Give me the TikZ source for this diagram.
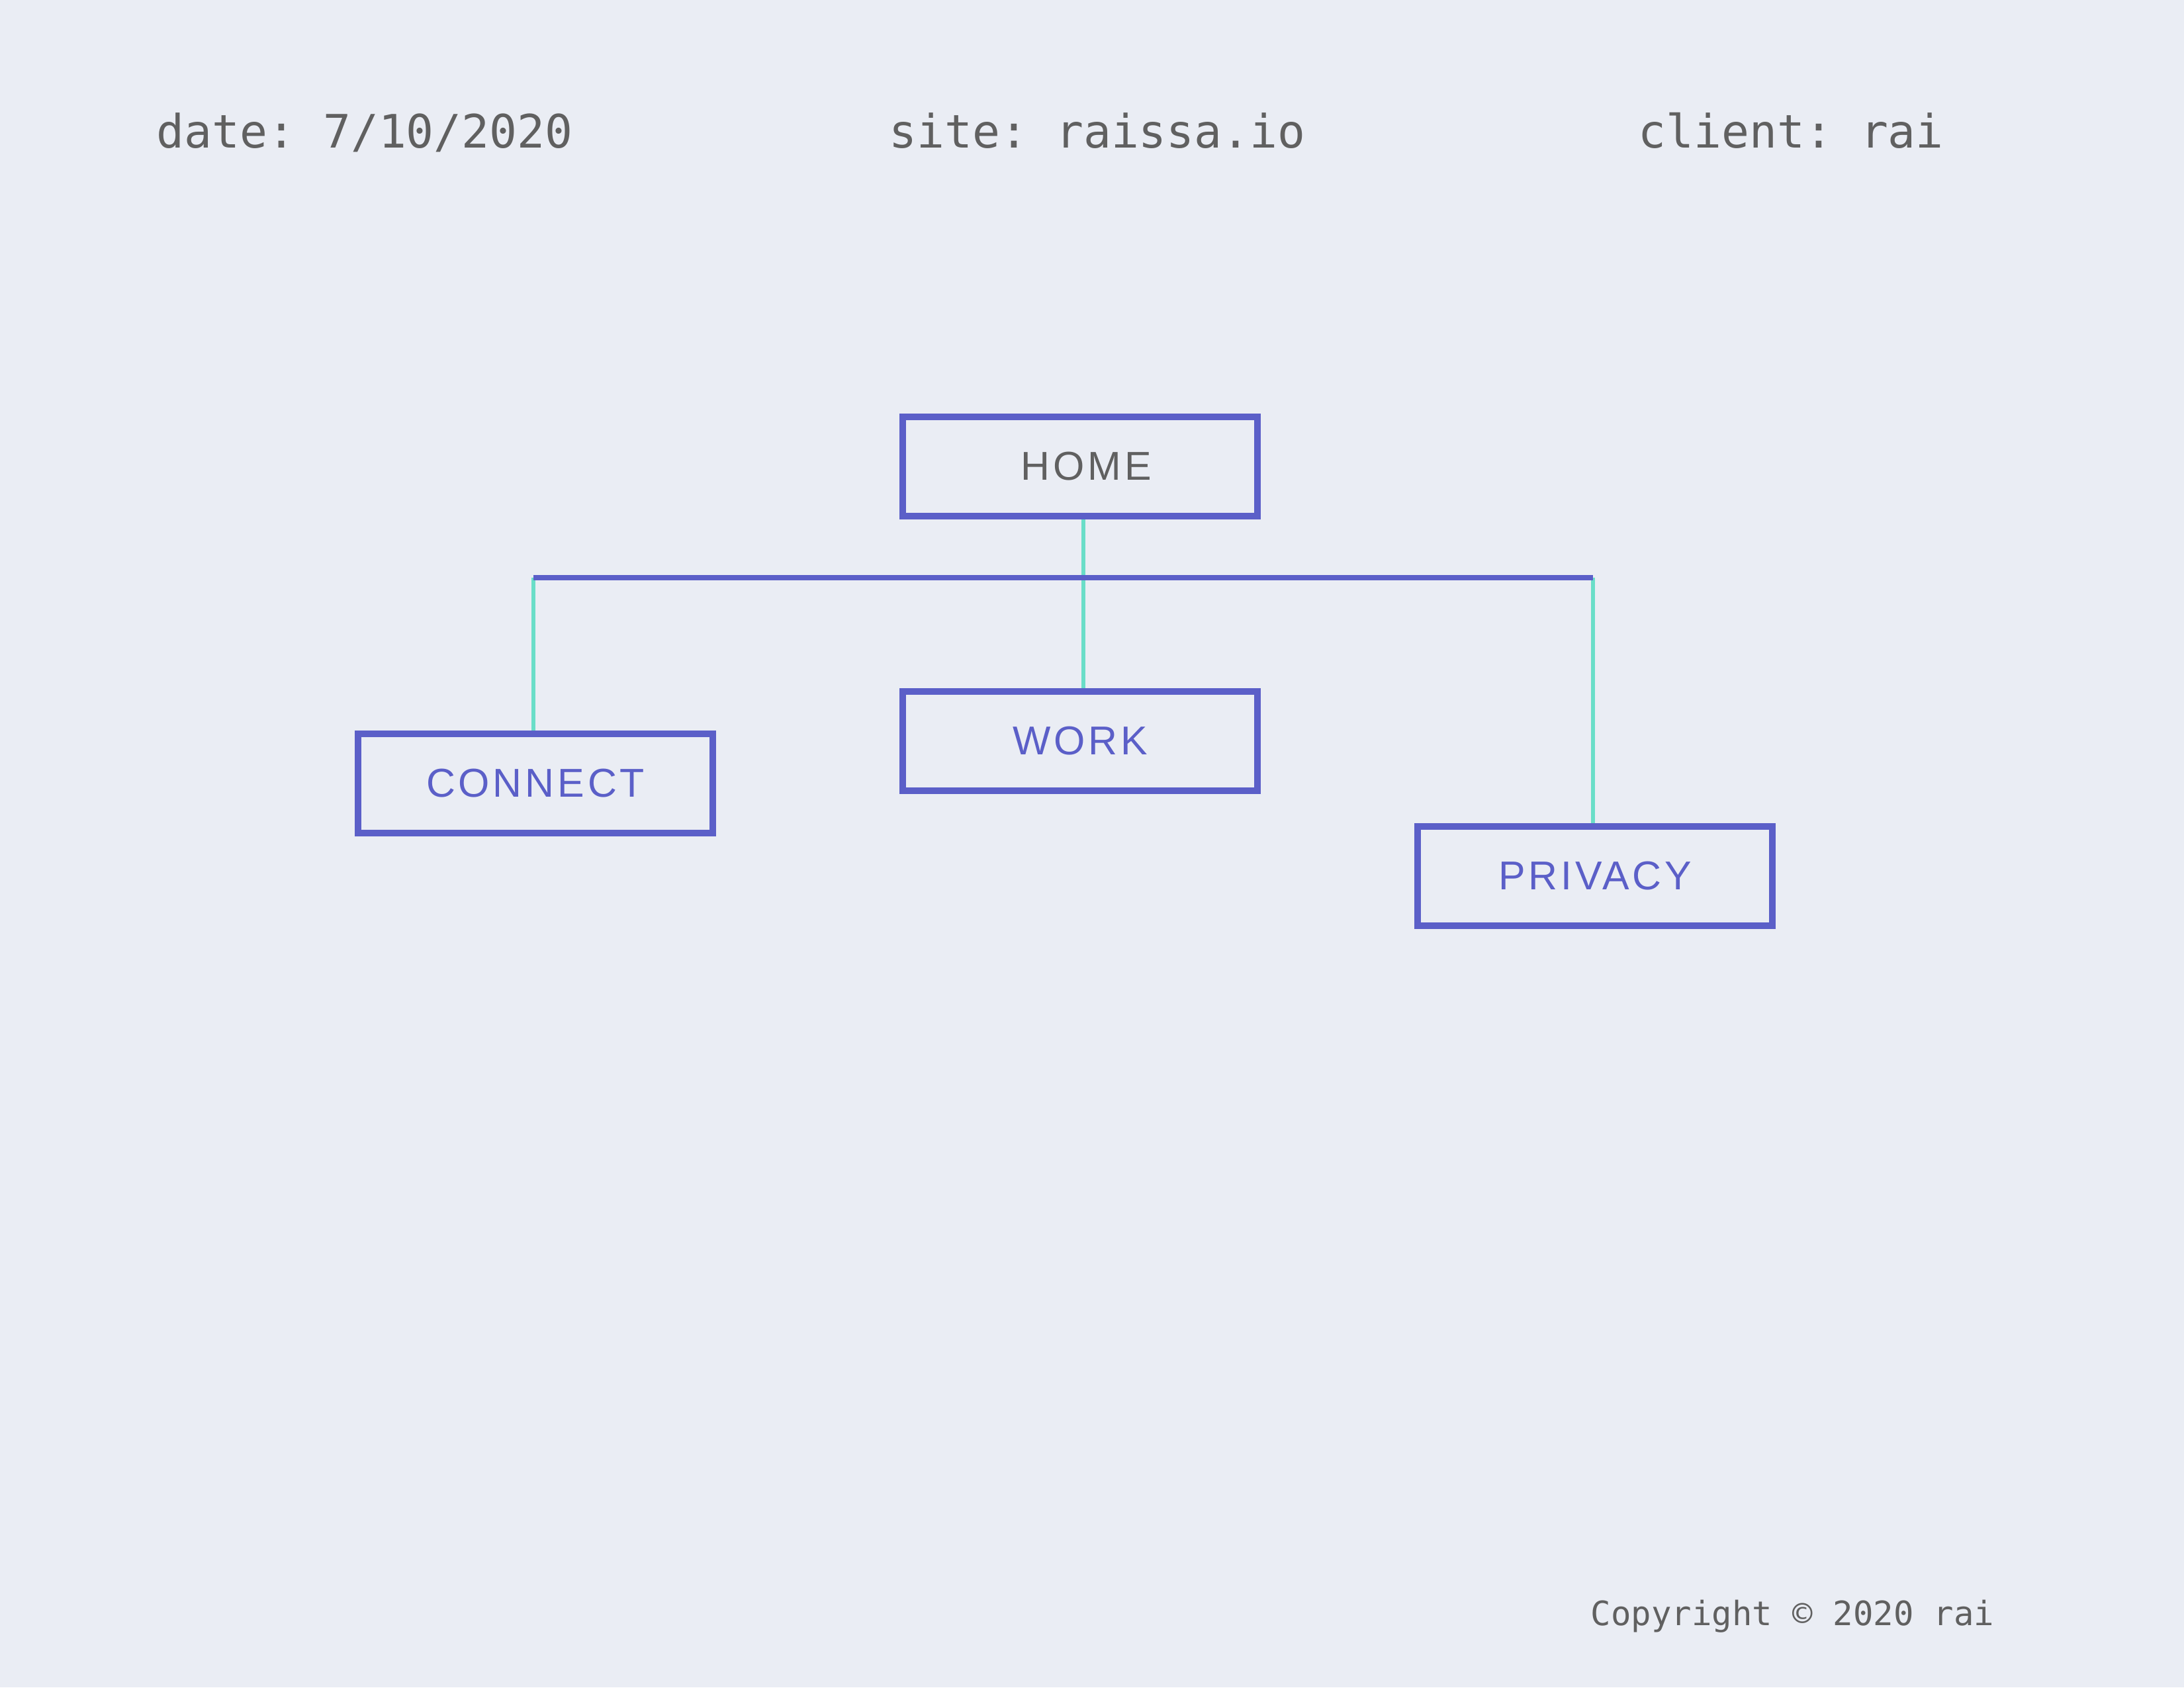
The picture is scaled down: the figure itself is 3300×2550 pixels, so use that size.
\documentclass[tikz,border=0pt]{standalone}
\usepackage{fontspec}
\newfontfamily\monof{DejaVu Sans Mono}
\newfontfamily\boxf[LetterSpace=8]{Liberation Sans}
\definecolor{bgc}{RGB}{234,237,244}
\definecolor{purp}{RGB}{91,95,200}
\definecolor{teal2}{RGB}{106,222,200}
\definecolor{graytxt}{RGB}{96,96,96}
\frenchspacing
\begin{document}
\begin{tikzpicture}[x=0.01cm,y=-0.01cm,
  pagebox/.style={draw=purp,line width=2.85pt,minimum width=5.35cm,minimum height=1.5cm,inner sep=0pt,
    font=\boxf\fontsize{17.3}{20}\selectfont,text=purp},
  header/.style={anchor=base west,inner sep=0pt,text=graytxt,font=\monof\fontsize{19.8}{24}\selectfont},
  foot/.style={anchor=base west,inner sep=0pt,text=graytxt,font=\monof\fontsize{14.4}{17}\selectfont},
  link/.style={draw=teal2,line width=1.9pt},
  bus/.style={draw=purp,line width=2.3pt}]
\fill[bgc] (0,0) rectangle (3300,2550);
\useasboundingbox (0,0) rectangle (3300,2550);
\node[header] (date) at (236,223) {date: 7/10/2020};
\node[header] (site) at (1343,223) {site: raissa.io};
\node[header] (client) at (2475,223) {client: rai};
\node[foot] (copy) at (2403,2456) {Copyright © 2020 rai};
\node[pagebox,text=graytxt] (home) at (1632,705) {\kern0.18cm HOME};
\node[pagebox] (work) at (1632,1120) {WORK};
\node[pagebox] (connect) at (809,1184) {CONNECT};
\node[pagebox] (privacy) at (2410,1324) {PRIVACY};
\coordinate (busy) at (1632,873);
\coordinate (busL) at ([xshift=-0.03cm]connect.north |- busy);
\coordinate (busR) at ([xshift=-0.03cm]privacy.north |- busy);
\draw[link] ([xshift=0.05cm]home.south) -- ([xshift=0.05cm]work.north);
\draw[link] (busL) -- ([xshift=-0.03cm]connect.north);
\draw[link] (busR) -- ([xshift=-0.03cm]privacy.north);
\draw[bus] (busL) -- (busR);
\end{tikzpicture}
\end{document}
